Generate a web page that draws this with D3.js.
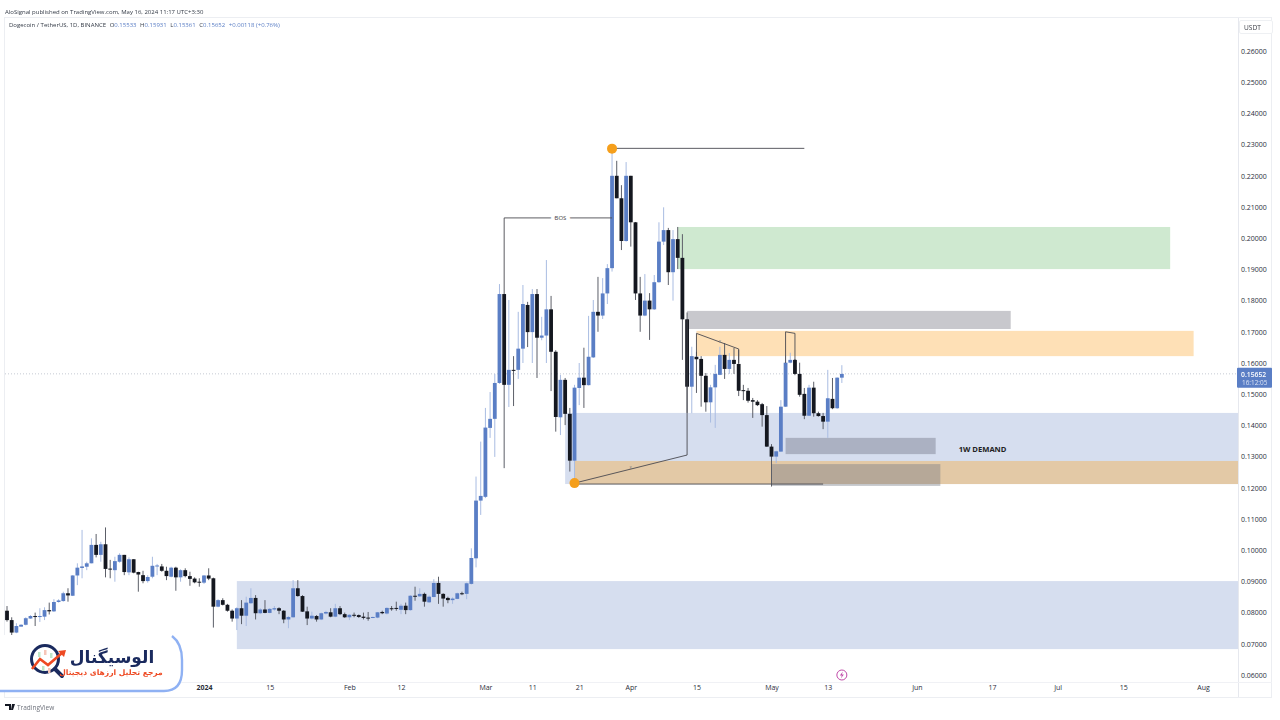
<!DOCTYPE html>
<html><head><meta charset="utf-8">
<style>html,body{margin:0;padding:0;background:#fff;overflow:hidden}svg{display:block;filter:blur(.3px)}</style>
<script src="https://cdn.jsdelivr.net/npm/d3@7"></script>
</head><body><svg id="c" width="1280" height="720"></svg>
<script>
const firstDay="2023-11-20";
const opens=[.0806,.0776,.0736,.0755,.0761,.0781,.0789,.0786,.0787,.0808,.0804,.0834,.0837,.0862,.0854,.0919,.0943,.0947,.0958,.1017,.0985,.1019,.0941,.0936,.0963,.0985,.0929,.0971,.0930,.0920,.0901,.0915,.0948,.0948,.0934,.0915,.0944,.0913,.0936,.0917,.0909,.0899,.0896,.0919,.0910,.0819,.0840,.0825,.0806,.0781,
.0814,.0790,.0830,.0847,.0798,.0810,.0799,.0810,.0814,.0806,.0778,.0785,.0878,.0853,.0804,.0781,.0789,.0778,.0797,.0801,.0787,.0814,.0795,.0785,.0793,.0792,.0787,.0784,.0784,.0784,.0802,.0797,.0814,.0815,.0809,.0822,.0808,.0854,.0852,.0860,.0833,.0850,.0895,.0860,.0847,.0840,.0844,.0862,.0860,.0892,
.0974,.1159,.1171,.1392,.1421,.1536,.1821,.1530,.1578,.1578,.1646,.1786,.1699,.1821,.1681,.1688,.1772,.1636,.1426,.1546,.1437,.1287,.1520,.1553,.1529,.1618,.1764,.1752,.1823,.1904,.2200,.2128,.1991,.2200,.2051,.1823,.1752,.1800,.1772,.1859,.1989,.2026,.1891,.1997,.1937,.1740,.1524,.1620,.1613,.1559,
.1474,.1522,.1562,.1626,.1581,.1610,.1597,.1513,.1511,.1481,.1476,.1468,.1433,.1332,.1300,.1316,.1460,.1601,.1610,.1565,.1501,.1431,.1521,.1439,.1430,.1412,.1485,.1455,.1553];
const closes=[.0776,.0736,.0757,.0761,.0782,.0789,.0786,.0789,.0808,.0804,.0834,.0839,.0862,.0855,.0919,.0944,.0948,.0958,.1017,.0985,.1019,.0940,.0938,.0965,.0985,.0930,.0971,.0928,.0922,.0901,.0914,.0950,.0951,.0934,.0917,.0944,.0913,.0936,.0917,.0908,.0897,.0896,.0919,.0909,.0819,.0840,.0825,.0806,.0781,.0814,
.0790,.0832,.0847,.0798,.0810,.0799,.0812,.0814,.0806,.0778,.0786,.0878,.0853,.0803,.0781,.0790,.0778,.0798,.0802,.0787,.0814,.0795,.0785,.0793,.0790,.0786,.0783,.0783,.0786,.0801,.0798,.0815,.0813,.0812,.0822,.0808,.0854,.0852,.0860,.0835,.0851,.0895,.0860,.0845,.0840,.0845,.0862,.0860,.0894,.0975,
.1159,.1174,.1393,.1421,.1536,.1821,.1530,.1578,.1575,.1646,.1789,.1699,.1821,.1681,.1688,.1772,.1636,.1427,.1546,.1437,.1287,.1521,.1553,.1529,.1620,.1764,.1752,.1823,.1904,.2200,.2128,.1991,.2200,.2051,.1823,.1752,.1800,.1772,.1859,.1989,.2026,.1891,.1997,.1937,.1740,.1524,.1622,.1612,.1559,.1474,
.1522,.1565,.1626,.1581,.1610,.1597,.1511,.1510,.1479,.1476,.1465,.1433,.1332,.1300,.1317,.1460,.1601,.1610,.1565,.1498,.1431,.1521,.1439,.1430,.1412,.1487,.1455,.1553,.1565];
const highs=[.0821,.0785,.0766,.0763,.0785,.0792,.0800,.0814,.0817,.0832,.0843,.0843,.0867,.0878,.0920,.0958,.1065,.0963,.1038,.1052,.1027,.1073,.0969,.0979,.0990,.0985,.0977,.0971,.0931,.0934,.0920,.0979,.0956,.0956,.0947,.0947,.0947,.0939,.0942,.0931,.0913,.0910,.0920,.0942,.0912,.0843,.0846,.0828,.0810,.0817,
.0840,.0851,.0878,.0856,.0814,.0840,.0814,.0821,.0817,.0808,.0789,.0904,.0904,.0856,.0819,.0803,.0792,.0800,.0806,.0814,.0828,.0821,.0800,.0795,.0800,.0794,.0800,.0802,.0787,.0802,.0806,.0817,.0821,.0835,.0828,.0832,.0856,.0883,.0878,.0864,.0855,.0907,.0915,.0862,.0851,.0849,.0864,.0867,.0896,.1006,
.1236,.1348,.1456,.1507,.1565,.1853,.1821,.1802,.1622,.1764,.1850,.1796,.1837,.1837,.1748,.1930,.1815,.1641,.1562,.1552,.1456,.1530,.1600,.1649,.1751,.1802,.1876,.1872,.1917,.2289,.2248,.2170,.2244,.2200,.2052,.1876,.1885,.1824,.1882,.2051,.2099,.2033,.2026,.2036,.2013,.1762,.1652,.1636,.1622,.1568,
.1530,.1594,.1652,.1664,.1632,.1648,.1642,.1530,.1520,.1488,.1481,.1472,.1462,.1340,.1319,.1481,.1626,.1633,.1613,.1601,.1520,.1530,.1540,.1444,.1440,.1578,.1552,.1554,.1593];
const lows=[.0771,.0728,.0734,.0755,.0759,.0780,.0757,.0770,.0776,.0794,.0802,.0832,.0835,.0835,.0853,.0888,.0910,.0936,.0958,.0977,.0963,.0913,.0910,.0899,.0960,.0920,.0920,.0926,.0867,.0894,.0896,.0910,.0920,.0931,.0904,.0913,.0870,.0899,.0913,.0886,.0894,.0883,.0892,.0904,.0752,.0817,.0823,.0803,.0771,.0744,
.0763,.0757,.0828,.0778,.0795,.0798,.0798,.0806,.0795,.0766,.0750,.0784,.0851,.0802,.0760,.0778,.0771,.0776,.0794,.0785,.0785,.0792,.0783,.0776,.0785,.0783,.0778,.0774,.0782,.0782,.0795,.0794,.0806,.0806,.0795,.0795,.0806,.0838,.0851,.0819,.0831,.0849,.0828,.0819,.0830,.0828,.0843,.0856,.0843,.0890,
.0945,.1113,.1167,.1360,.1299,.1533,.1263,.1459,.1462,.1549,.1600,.1651,.1600,.1552,.1673,.1600,.1510,.1380,.1369,.1401,.1252,.1225,.1465,.1456,.1528,.1616,.1700,.1741,.1789,.1893,.2128,.1962,.1989,.1973,.1802,.1700,.1750,.1674,.1770,.1857,.1978,.1850,.1800,.1901,.1610,.1440,.1439,.1504,.1460,.1444,
.1409,.1392,.1561,.1549,.1565,.1565,.1494,.1481,.1473,.1424,.1462,.1396,.1331,.1204,.1279,.1315,.1459,.1599,.1561,.1492,.1420,.1430,.1428,.1428,.1388,.1360,.1452,.1453,.1536];
const priceTicks=[.26,.25,.24,.23,.22,.21,.20,.19,.18,.17,.16,.15,.14,.13,.12,.11,.10,.09,.08,.07,.06];
const timeTicks=["2024-01-01","2024-01-15","2024-02-01","2024-02-12","2024-03-01","2024-03-11","2024-03-21","2024-04-01","2024-04-15","2024-05-01","2024-05-13","2024-06-01","2024-06-17","2024-07-01","2024-07-15","2024-08-01"];
const timeLabels=["2024","15","Feb","12","Mar","11","21","Apr","15","May","13","Jun","17","Jul","15","Aug"];
// zones: from date, to date, top price, bottom price, fill
const zones=[
["2024-01-08","2024-08-20",.0901,.0683,"#d6deef"],
["2024-03-18","2024-08-20",.1440,.1212,"#d6deef"],
["2024-03-20","2024-08-20",.1286,.1212,"#e3c9a6"],
["2024-04-11","2024-07-25",.2036,.1901,"#cfe9d0"],
["2024-04-13","2024-06-21",.1767,.1709,"#c8c8cd"],
["2024-04-15","2024-07-30",.1703,.1622,"#fee0b6"],
["2024-05-04","2024-06-05",.1360,.1308,"rgba(120,123,140,.45)"],
["2024-05-01","2024-06-06",.1276,.1206,"rgba(120,123,134,.42)"]];
// annotation polylines as [date, price]
const lines=[
[["2024-03-28",.2288],["2024-05-08",.2288]],
[["2024-03-20",.1212],["2024-05-12",.1212]],
[["2024-03-05",.1821],["2024-03-05",.2065],["2024-03-28",.2065]],
[["2024-03-20",.1215],["2024-04-13",.1305],["2024-04-13",.1738]],
[["2024-04-15",.1622],["2024-04-15",.1695],["2024-04-24",.1645],["2024-04-24",.1600]],
[["2024-05-04",.1600],["2024-05-04",.1700],["2024-05-06",.1695],["2024-05-06",.1609]]];
const pivots=[["2024-03-28",.2287],["2024-03-20",.1215]];
const notes=[["2024-03-17",.2065,"BOS",6,"#444",400],["2024-04-01",.1266,"x",4.5,"#777",400],["2024-04-20",.1668,"x",4.5,"#777",400],["2024-06-15",.1324,"1W DEMAND",7.6,"#222",700]];
const lastPrice=.15652;

const d=s=>new Date(s+"T00:00:00Z");
const svg=d3.select("#c");
const x=d3.scaleUtc().domain([d("2024-01-01"),d("2024-08-01")]).range([204,1203]);
const y=d3.scaleLinear().domain([.06,.26]).range([675,51]);
const font="'Open Sans','Liberation Sans',sans-serif";
svg.append("defs").append("clipPath").attr("id","plot").append("rect").attr("x",5).attr("y",18).attr("width",1233).attr("height",679);

// frame
svg.append("rect").attr("x",4.5).attr("y",17.5).attr("width",1267).attr("height",680).attr("fill","#fff").attr("stroke","#eceef2");
svg.append("line").attr("x1",1238.5).attr("x2",1238.5).attr("y1",18).attr("y2",697).attr("stroke","#e6e8ee");
svg.append("line").attr("x1",5).attr("x2",1272).attr("y1",682.5).attr("y2",682.5).attr("stroke","#f0f1f5");

const plot=svg.append("g").attr("clip-path","url(#plot)");
plot.selectAll("rect.z").data(zones).join("rect").attr("class","z")
 .attr("x",r=>x(d(r[0]))).attr("width",r=>x(d(r[1]))-x(d(r[0])))
 .attr("y",r=>y(r[2])).attr("height",r=>y(r[3])-y(r[2])).attr("fill",r=>r[4]);
plot.append("line").attr("x1",5).attr("x2",1238).attr("y1",y(lastPrice)).attr("y2",y(lastPrice))
 .attr("stroke","#b8bcc8").attr("stroke-dasharray","1 2").attr("stroke-width",.8);

const candles=opens.map((o,i)=>({date:d3.utcDay.offset(d(firstDay),i),o,c:closes[i],h:highs[i],l:lows[i]}));
const up=k=>k.c>=k.o;
plot.selectAll("line.w").data(candles).join("line").attr("class","w")
 .attr("x1",k=>x(k.date)).attr("x2",k=>x(k.date)).attr("y1",k=>y(k.h)).attr("y2",k=>y(k.l))
 .attr("stroke",k=>up(k)?"#a9bce2":"#5c5f68").attr("stroke-width",1);
plot.selectAll("rect.b").data(candles).join("rect").attr("class","b")
 .attr("x",k=>x(k.date)-1.9).attr("width",3.8)
 .attr("y",k=>y(Math.max(k.o,k.c))).attr("height",k=>Math.max(1,Math.abs(y(k.o)-y(k.c))))
 .attr("fill",k=>up(k)?"#5a7ec5":"#14171f");

const ln=d3.line().x(p=>x(d(p[0]))).y(p=>y(p[1]));
plot.selectAll("path.a").data(lines).join("path").attr("class","a").attr("d",ln).attr("fill","none").attr("stroke","#4a4a50").attr("stroke-width",.9);
plot.selectAll("circle.p").data(pivots).join("circle").attr("class","p").attr("cx",p=>x(d(p[0]))).attr("cy",p=>y(p[1])).attr("r",5).attr("fill","#f59f1c");
plot.selectAll("text.n").data(notes).join("text").attr("class","n").attr("x",n=>x(d(n[0]))).attr("y",n=>y(n[1])).attr("dy","0.35em")
 .attr("text-anchor","middle").attr("font-family",font).attr("font-size",n=>n[3]).attr("font-weight",n=>n[5]).attr("fill",n=>n[4])
 .attr("stroke","none").text(n=>n[2]);
plot.selectAll("text.n").filter(n=>n[2]==="BOS").attr("paint-order","stroke").attr("stroke","#fff").attr("stroke-width",8);

// axes
const ay=d3.axisRight(y).tickValues(priceTicks).tickSize(0).tickPadding(0).tickFormat(d3.format(".5f"));
const gy=svg.append("g").attr("transform","translate(1241,0)").call(ay);
gy.select(".domain").remove();
gy.selectAll("text").attr("font-family",font).attr("font-size",7).attr("fill","#2a2e39");
const ax=d3.axisBottom(x).tickValues(timeTicks.map(d)).tickSize(0).tickPadding(0).tickFormat((t,i)=>timeLabels[i]);
const gx=svg.append("g").attr("transform","translate(0,685)").call(ax);
gx.select(".domain").remove();
gx.selectAll("text").attr("font-family",font).attr("font-size",7).attr("fill","#2a2e39").attr("font-weight",(t,i)=>i===0?700:400);

// header, legend
const T=(xp,yp,s,size,fill,extra={})=>{const t=svg.append("text").attr("x",xp).attr("y",yp).attr("font-family",font).attr("font-size",size).attr("fill",fill).text(s);for(const k in extra)t.attr(k,extra[k]);return t;};
T(5,14,"AloSignal published on TradingView.com, May 16, 2024 11:17 UTC+3:30",6,"#333a46");
const leg=T(9,27,"Dogecoin / TetherUS, 1D, BINANCE",6,"#333a46");
leg.append("tspan").attr("fill","#333a46").attr("dx",3.6).text("O").append("tspan").attr("fill","#5a7ec5").text("0.15533");
leg.append("tspan").attr("dx",3.6).text("H").append("tspan").attr("fill","#5a7ec5").text("0.15931");
leg.append("tspan").attr("dx",3.6).text("L").append("tspan").attr("fill","#5a7ec5").text("0.15361");
leg.append("tspan").attr("dx",3.6).text("C").append("tspan").attr("fill","#5a7ec5").text("0.15652");
leg.append("tspan").attr("dx",3.6).attr("fill","#5a7ec5").text("+0.00118 (+0.76%)");

svg.append("rect").attr("x",1239.5).attr("y",20.5).attr("width",33).attr("height",13).attr("rx",1.5).attr("fill","#fff").attr("stroke","#eef0f3");
T(1244,29.5,"USDT",6.6,"#3a3d45");
svg.append("rect").attr("x",1237).attr("y",y(lastPrice)-6).attr("width",35).attr("height",20).attr("rx",1).attr("fill","#5a7ec5");
T(1241,y(lastPrice)+3,d3.format(".5f")(lastPrice),6.8,"#fff",{"font-weight":600});
T(1242,y(lastPrice)+11,"16:12:05",6.4,"#dbe3f4");

// lightning icon
const li=svg.append("g").attr("transform",`translate(${x(d("2024-05-16"))},675)`);
li.append("circle").attr("r",5).attr("fill","#fff").attr("stroke","#c04aa8").attr("stroke-width",1);
li.append("path").attr("d","M1,-3.5L-2,.5H0L-1,3.5L2,-.5H0Z").attr("fill","#c04aa8");

// TradingView footer
svg.append("path").attr("d","M5,704H11V710H9V706H5ZM12,704H15L13,710H11Z").attr("fill","#131722");
T(17,709.5,"TradingView",6.5,"#6e727c");

// logo panel
svg.append("path").attr("d","M0,635H170C179,640 183,650 183,660V670C183,684 176,692 164,692H0Z").attr("fill","#fff");
svg.append("path").attr("d","M172,636C180,642 182,650 182,660V670C182,684 176,691 164,691H0").attr("fill","none").attr("stroke","#8fb1f3").attr("stroke-width",2.4);
const lg=svg.append("g");
lg.append("circle").attr("cx",45).attr("cy",659).attr("r",13.5).attr("fill","#fff").attr("stroke","#1a2a5e").attr("stroke-width",3);
lg.append("path").attr("d","M55,669L62,676").attr("stroke","#1a2a5e").attr("stroke-width",4).attr("stroke-linecap","round");
lg.selectAll("rect.ic").data([[38,652,"#bfe5c8"],[44,650,"#f6c5b8"],[50,653,"#bfe5c8"],[42,666,"#bfe5c8"],[48,668,"#f6c5b8"]]).join("rect").attr("class","ic").attr("x",v=>v[0]).attr("y",v=>v[1]).attr("width",2.5).attr("height",5).attr("fill",v=>v[2]);
lg.append("path").attr("d","M32,669L40,659L48,665L62,653").attr("fill","none").attr("stroke","#ee4a23").attr("stroke-width",2.6);
lg.append("path").attr("d","M66,650L58,651L64,657Z").attr("fill","#ee4a23");
T(112,663,"الوسیگنال",17,"#1a2a5e",{"text-anchor":"middle","font-family":"'DejaVu Sans'","font-weight":700,"direction":"rtl"});
T(111,675,"مرجع تحلیل ارزهای دیجیتال",7.6,"#ee4a23",{"text-anchor":"middle","font-family":"'DejaVu Sans'","font-weight":700,"direction":"rtl"});
</script></body></html>
